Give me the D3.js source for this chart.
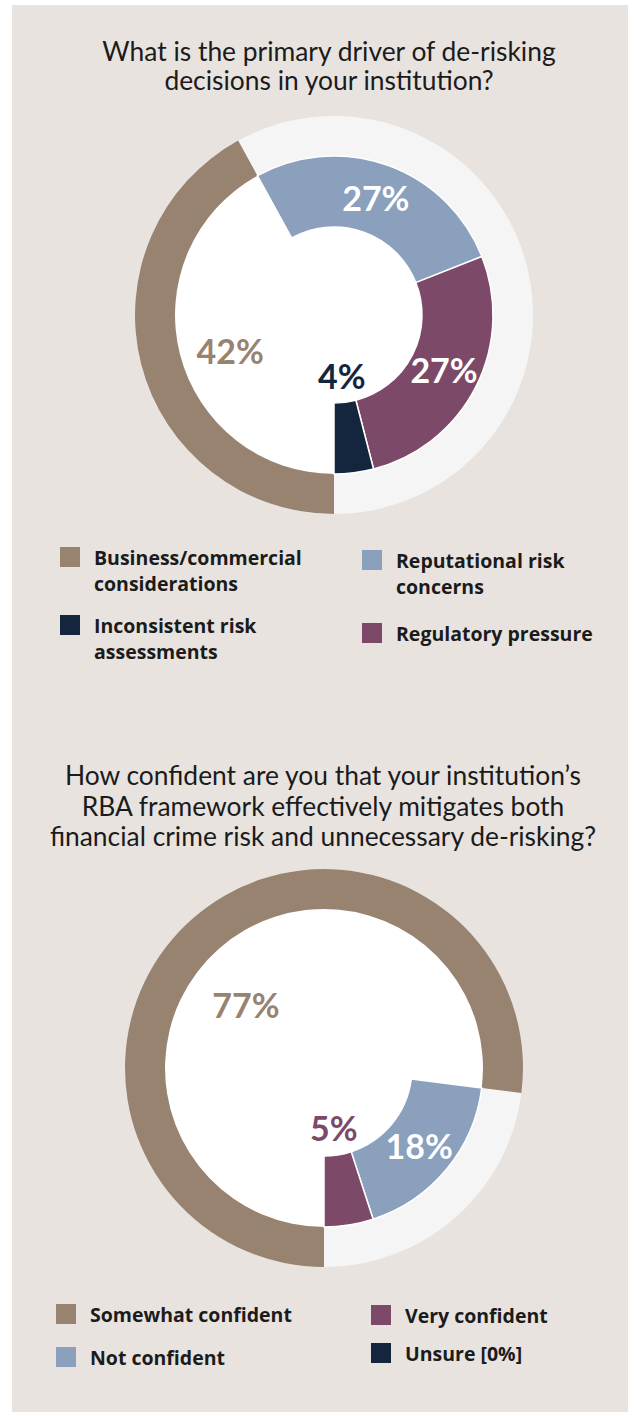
<!DOCTYPE html>
<html>
<head>
<meta charset="utf-8">
<script src="https://cdn.jsdelivr.net/npm/d3@7"></script>
<style>
  html, body { margin: 0; padding: 0; background: #ffffff; }
  svg { display: block; }
</style>
</head>
<body>
<svg id="chart" width="635" height="1416"></svg>
<script>
// Survey question 1: primary driver of de-risking decisions
const driverTitle = ["What is the primary driver of de-risking", "decisions in your institution?"];
const driverCategories = ["Business/commercial considerations", "Reputational risk concerns", "Regulatory pressure", "Inconsistent risk assessments"];
const driverValues = [42, 27, 27, 4];
const driverLegend = [
  ["Business/commercial", "considerations"],
  ["Reputational risk", "concerns"],
  ["Regulatory pressure"],
  ["Inconsistent risk", "assessments"]
];

// Survey question 2: confidence in the RBA framework
const confTitle = ["How confident are you that your institution\u2019s", "RBA framework effectively mitigates both", "financial crime risk and unnecessary de-risking?"];
const confCategories = ["Somewhat confident", "Not confident", "Very confident", "Unsure"];
const confValues = [77, 18, 5, 0];
const confLegend = [["Somewhat confident"], ["Not confident"], ["Very confident"], ["Unsure [0%]"]];

const colors = {
  tan: "#988371",
  blue: "#8aa0bd",
  purple: "#7c4969",
  navy: "#13263d",
  track: "#f5f5f5",
  panel: "#e8e3df",
  ink: "#1b1b1b"
};

const svg = d3.select("#chart");

svg.append("rect")
  .attr("x", 12).attr("y", 5)
  .attr("width", 616).attr("height", 1407)
  .attr("fill", colors.panel);

const R_OUTER = 199, R_MID = 159, R_INNER = 88;

function drawTitle(lines, cx, firstBaseline, lineHeight) {
  const t = svg.append("text")
    .attr("text-anchor", "middle")
    .attr("font-family", "Lato, 'Noto Sans', sans-serif")
    .attr("font-size", 26.4)
    .attr("fill", colors.ink);
  lines.forEach((l, i) => {
    t.append("tspan").attr("x", cx).attr("y", firstBaseline + i * lineHeight).text(l);
  });
}

function drawDonut(opts) {
  const g = svg.append("g").attr("transform", `translate(${opts.cx},${opts.cy})`);
  const pie = d3.pie().sort(null).value(d => d.value)
    .startAngle(Math.PI).endAngle(3 * Math.PI);
  const arcs = pie(opts.values.map((v, i) => ({ value: v, color: opts.colors[i], i })));

  // full light track ring and white face
  g.append("path")
    .attr("d", d3.arc().innerRadius(R_MID).outerRadius(R_OUTER)({ startAngle: 0, endAngle: 2 * Math.PI }))
    .attr("fill", colors.track);
  g.append("circle").attr("r", R_MID).attr("fill", "#ffffff");

  const outerArc = d3.arc().innerRadius(R_MID).outerRadius(R_OUTER);
  const innerArc = d3.arc().innerRadius(R_INNER).outerRadius(R_MID);

  // leading slice sits in the outer ring, the rest in the inner band
  g.selectAll("path.slice")
    .data(arcs.filter(a => a.value > 0))
    .join("path")
    .attr("class", "slice")
    .attr("d", a => (a.index === 0 ? outerArc(a) : innerArc(a)))
    .attr("fill", a => a.data.color)
    .attr("stroke", a => (a.index === 0 ? "none" : "#ffffff"))
    .attr("stroke-width", 1.5);

  // value labels
  arcs.filter(a => a.value > 0).forEach(a => {
    let r, ang = (a.startAngle + a.endAngle) / 2, fill;
    if (a.index === 0) {
      r = opts.leadLabelR; ang += opts.leadLabelShift * Math.PI / 180; fill = a.data.color;
    } else if (a.value < 10) {
      r = 62; fill = a.data.color;
    } else {
      r = (R_INNER + R_MID) / 2; fill = "#ffffff";
    }
    g.append("text")
      .attr("x", r * Math.sin(ang))
      .attr("y", -r * Math.cos(ang))
      .attr("dy", "0.36em")
      .attr("text-anchor", "middle")
      .attr("font-family", "Lato, sans-serif")
      .attr("font-weight", 700)
      .attr("font-size", 34)
      .attr("fill", fill)
      .text(a.value + "%");
  });
}

function drawLegend(items, layout) {
  items.forEach((it, i) => {
    const p = layout[i];
    svg.append("rect")
      .attr("x", p.x).attr("y", p.y)
      .attr("width", 20).attr("height", 20)
      .attr("fill", it.color);
    const t = svg.append("text")
      .attr("font-family", "'Open Sans', sans-serif")
      .attr("font-weight", 700)
      .attr("font-size", 19.5)
      .attr("fill", colors.ink);
    it.lines.forEach((l, k) => {
      t.append("tspan").attr("x", p.x + 34).attr("y", p.y + 18 + k * 26).text(l);
    });
  });
}

// ---- Chart 1 ----
drawTitle(driverTitle, 329, 61, 29);
drawDonut({
  cx: 334, cy: 315,
  values: driverValues,
  colors: [colors.tan, colors.blue, colors.purple, colors.navy],
  leadLabelR: 110, leadLabelShift: -5
});
drawLegend(
  [
    { color: colors.tan, lines: driverLegend[0] },
    { color: colors.blue, lines: driverLegend[1] },
    { color: colors.purple, lines: driverLegend[2] },
    { color: colors.navy, lines: driverLegend[3] }
  ],
  [{ x: 60, y: 547 }, { x: 362, y: 550 }, { x: 362, y: 623 }, { x: 60, y: 615 }]
);

// ---- Chart 2 ----
drawTitle(confTitle, 323, 785, 30.5);
drawDonut({
  cx: 324, cy: 1068,
  values: confValues,
  colors: [colors.tan, colors.blue, colors.purple, colors.navy],
  leadLabelR: 100, leadLabelShift: -10
});
drawLegend(
  [
    { color: colors.tan, lines: confLegend[0] },
    { color: colors.blue, lines: confLegend[1] },
    { color: colors.purple, lines: confLegend[2] },
    { color: colors.navy, lines: confLegend[3] }
  ],
  [{ x: 56, y: 1304 }, { x: 56, y: 1347 }, { x: 371, y: 1305 }, { x: 371, y: 1343 }]
);
</script>
</body>
</html>
